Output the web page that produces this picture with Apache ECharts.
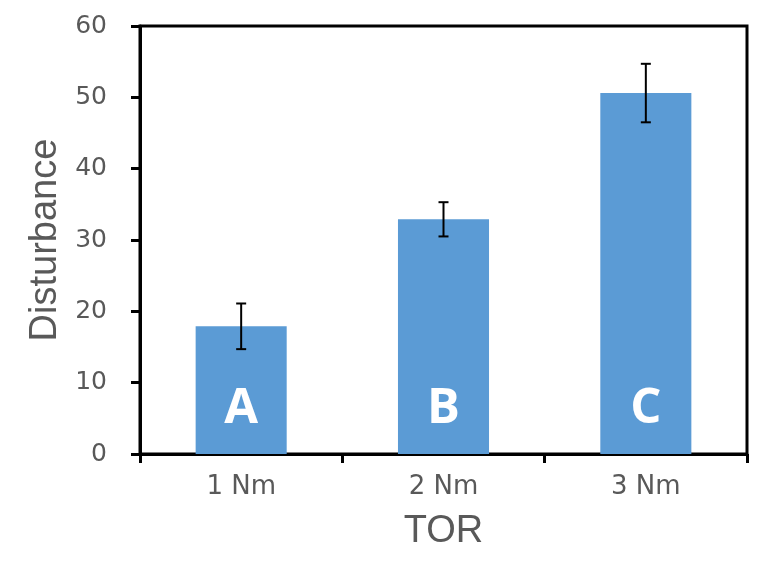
<!DOCTYPE html>
<html>
<head>
<meta charset="utf-8">
<script src="https://cdn.jsdelivr.net/npm/echarts@6/dist/echarts.min.js"></script>
<style>html,body{margin:0;padding:0;background:#fff;}#c{width:770px;height:580px;}</style>
</head>
<body>
<div id="c"></div>
<script>
const categories = ['1 Nm', '2 Nm', '3 Nm'];
const means = [17.9, 32.9, 50.6];
const errors = [3.2, 2.4, 4.1];
const letters = ['A', 'B', 'C'];
const yTicks = { min: 0, max: 60, interval: 10 };

const chart = echarts.init(document.getElementById('c'), null, { renderer: 'canvas' });
const errData = categories.map((c, i) => [i, means[i] - errors[i], means[i] + errors[i]]);

chart.setOption({
  animation: false,
  backgroundColor: '#ffffff',
  grid: { left: 140, right: 23, top: 26, bottom: 126, show: true, borderColor: '#000', borderWidth: 3, containLabel: false },
  xAxis: {
    type: 'category',
    data: categories,
    boundaryGap: true,
    name: 'TOR',
    nameLocation: 'middle',
    nameGap: 59,
    nameTextStyle: { fontFamily: 'Liberation Sans', fontSize: 38, color: '#595959', lineHeight: 38 },
    axisLine: { lineStyle: { color: '#000', width: 3 } },
    axisTick: { show: true, inside: false, length: 9, alignWithLabel: false, lineStyle: { color: '#000', width: 3 } },
    axisLabel: { fontFamily: 'DejaVu Sans', fontSize: 26, color: '#595959', margin: 20, lineHeight: 26 },
    splitLine: { show: false }
  },
  yAxis: {
    type: 'value',
    min: yTicks.min, max: yTicks.max, interval: yTicks.interval,
    name: 'Disturbance',
    nameLocation: 'middle',
    nameGap: 73,
    nameTextStyle: { fontFamily: 'Liberation Sans', fontSize: 38, color: '#595959', lineHeight: 38 },
    axisLine: { show: true, lineStyle: { color: '#000', width: 3 } },
    axisTick: { show: true, inside: false, length: 9, lineStyle: { color: '#000', width: 3 } },
    axisLabel: { fontFamily: 'DejaVu Sans', fontSize: 25, color: '#595959', margin: 33 },
    splitLine: { show: false }
  },
  series: [
    {
      type: 'bar',
      data: means,
      barWidth: '45%',
      itemStyle: { color: '#5B9BD5' },
      label: {
        show: true,
        position: 'insideBottom',
        distance: 20,
        formatter: p => letters[p.dataIndex],
        fontFamily: 'Open Sans',
        fontWeight: 'bold',
        fontSize: 49,
        lineHeight: 49,
        color: '#ffffff'
      }
    },
    {
      type: 'custom',
      data: errData,
      z: 10,
      renderItem: function (params, api) {
        const x = api.value(0);
        const lo = api.coord([x, api.value(1)]);
        const hi = api.coord([x, api.value(2)]);
        const hw = 5;
        const style = { stroke: '#000', lineWidth: 2 };
        return {
          type: 'group',
          children: [
            { type: 'line', shape: { x1: lo[0], y1: lo[1], x2: hi[0], y2: hi[1] }, style },
            { type: 'line', shape: { x1: hi[0] - hw, y1: hi[1], x2: hi[0] + hw, y2: hi[1] }, style },
            { type: 'line', shape: { x1: lo[0] - hw, y1: lo[1], x2: lo[0] + hw, y2: lo[1] }, style }
          ]
        };
      }
    }
  ]
});
</script>
</body>
</html>
